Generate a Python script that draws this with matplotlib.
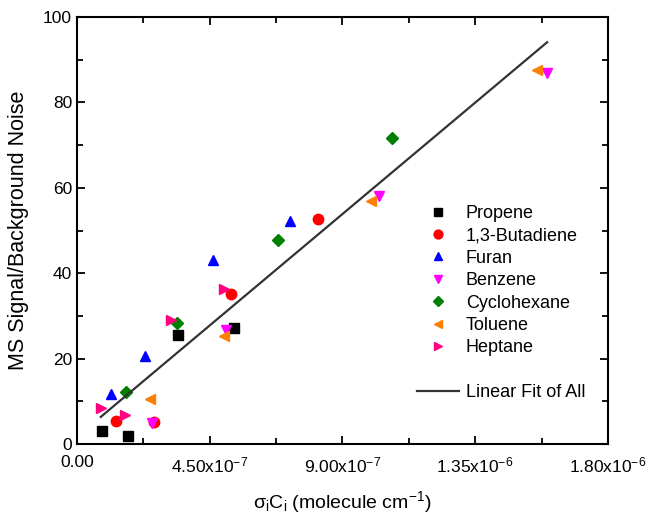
import numpy as np
import matplotlib
matplotlib.use('Agg')
import matplotlib.pyplot as plt
from matplotlib.lines import Line2D
from matplotlib.ticker import FixedLocator, MultipleLocator

plt.rcParams['font.family'] = ['Liberation Sans', 'DejaVu Sans']
plt.rcParams['mathtext.fontset'] = 'custom'
plt.rcParams['mathtext.rm'] = 'Liberation Sans'
plt.rcParams['mathtext.it'] = 'Liberation Sans'
plt.rcParams['mathtext.default'] = 'regular'

# ====================================================
# data (x in molecule cm^-1)
names = ['Propene', '1,3-Butadiene', 'Furan', 'Benzene', 'Cyclohexane', 'Toluene', 'Heptane']
markers = ['s', 'o', '^', 'v', 'D', '<', '>']
colors = ['#000000', '#FF0000', '#0000FF', '#FF00FF', '#008000', '#FF8000', '#FF0080']

propene_x = [8.4e-8, 1.72e-7, 3.42e-7, 5.33e-7]
propene_y = [3.0, 1.9, 25.5, 27.1]
butadiene_x = [1.31e-7, 2.61e-7, 5.22e-7, 8.16e-7]
butadiene_y = [5.4, 5.2, 35.1, 52.6]
furan_x = [1.14e-7, 2.31e-7, 4.62e-7, 7.22e-7]
furan_y = [11.7, 20.7, 43.1, 52.2]
benzene_x = [2.55e-7, 5.07e-7, 1.023e-6, 1.594e-6]
benzene_y = [5.0, 26.7, 58.2, 86.8]
cyclohexane_x = [1.68e-7, 3.41e-7, 6.83e-7, 1.067e-6]
cyclohexane_y = [12.1, 28.3, 47.7, 71.7]
toluene_x = [2.47e-7, 4.98e-7, 9.97e-7, 1.56e-6]
toluene_y = [10.5, 25.4, 57.0, 87.6]
heptane_x = [8.1e-8, 1.62e-7, 3.19e-7, 5.0e-7]
heptane_y = [8.5, 6.8, 29.0, 36.3]

xs = [propene_x, butadiene_x, furan_x, benzene_x, cyclohexane_x, toluene_x, heptane_x]
ys = [propene_y, butadiene_y, furan_y, benzene_y, cyclohexane_y, toluene_y, heptane_y]

xticks = [0, 4.5e-7, 9.0e-7, 1.35e-6, 1.8e-6]
xticklabels = ['0.00', r'4.50x10$^{-7}$', r'9.00x10$^{-7}$', r'1.35x10$^{-6}$', r'1.80x10$^{-6}$']

# ====================================================
def main():
	fig = plt.figure(figsize=(6.46, 5.14), dpi=100)
	ax = fig.add_axes([0.119, 0.136, 0.822, 0.831])

	handles = []
	for x, y, n, m, c in zip(xs, ys, names, markers, colors):
		h, = ax.plot(x, y, linestyle='none', marker=m, color=c, ms=7.5 if m != 'D' else 6.5,
			mec=c, label=n)
		handles.append(h)

	# linear fit of all points
	all_x = np.concatenate([np.array(x) for x in xs])
	all_y = np.concatenate([np.array(y) for y in ys])
	k, b = np.polyfit(all_x, all_y, 1)
	fx = np.array([all_x.min(), all_x.max()])
	fit, = ax.plot(fx, k * fx + b, color='#333333', lw=1.6, label='Linear Fit of All')

	blank = Line2D([], [], linestyle='none', marker=None, label=' ')
	ax.legend(handles + [blank, fit], names + [' ', 'Linear Fit of All'],
		loc='center left', bbox_to_anchor=(0.61, 0.33), frameon=False, fontsize=13,
		handlelength=2.3, labelspacing=0.3, handletextpad=0.4, markerscale=0.85)

	ax.set_xlim(0, 1.8e-6)
	ax.set_ylim(0, 100)
	ax.xaxis.set_major_locator(FixedLocator(xticks))
	ax.set_xticklabels(xticklabels)
	ax.xaxis.set_minor_locator(MultipleLocator(2.25e-7))
	ax.yaxis.set_major_locator(MultipleLocator(20))
	ax.yaxis.set_minor_locator(MultipleLocator(10))
	ax.tick_params(which='both', direction='in', top=True, right=True, labelsize=12.5, width=1.3)
	ax.tick_params(which='major', length=6)
	ax.tick_params(which='minor', length=4)
	ax.tick_params(axis='x', pad=8)
	for s in ax.spines.values():
		s.set_linewidth(1.5)

	ax.set_xlabel(r'$\sigma_i$C$_i$ (molecule cm$^{-1}$)', fontsize=14, labelpad=10)
	ax.set_ylabel('MS Signal/Background Noise', fontsize=15.5, labelpad=10)

	fig.savefig('out.png', dpi=100)

# ====================================================
if __name__ == "__main__":
	main()
